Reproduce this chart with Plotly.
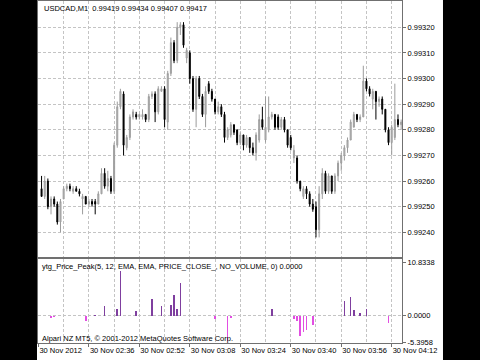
import plotly.graph_objects as go

# bar number (1 minute bars, bar 0 = 30 Nov 02:20)
bars = list(range(1, 116))

open_ = [0.99257, 0.99254, 0.99260, 0.99250, 0.99253, 0.99251, 0.99244, 0.99253, 0.99257, 0.99258,
         0.99256, 0.99257, 0.99256, 0.99253, 0.99254, 0.99251, 0.99252, 0.99252, 0.99251, 0.99255,
         0.99263, 0.99258, 0.99261, 0.99256, 0.99274, 0.99289, 0.99294, 0.99273, 0.99277, 0.99285,
         0.99286, 0.99285, 0.99285, 0.99286, 0.99284, 0.99293, 0.99294, 0.99287, 0.99295, 0.99296,
         0.99283, 0.99302, 0.99314, 0.99307, 0.99320, 0.99321, 0.99308, 0.99310, 0.99300, 0.99288,
         0.99300, 0.99293, 0.99286, 0.99298, 0.99295, 0.99292, 0.99287, 0.99289, 0.99286, 0.99277,
         0.99278, 0.99282, 0.99280, 0.99275, 0.99278, 0.99274, 0.99277, 0.99273, 0.99271, 0.99276,
         0.99284, 0.99276, 0.99280, 0.99285, 0.99286, 0.99285, 0.99281, 0.99284, 0.99280, 0.99277,
         0.99269, 0.99269, 0.99260, 0.99254, 0.99257, 0.99255, 0.99251, 0.99250, 0.99241, 0.99255,
         0.99263, 0.99256, 0.99262, 0.99256, 0.99262, 0.99267, 0.99270, 0.99273, 0.99276, 0.99281,
         0.99286, 0.99284, 0.99285, 0.99299, 0.99296, 0.99292, 0.99295, 0.99291, 0.99292, 0.99288,
         0.99280, 0.99275, 0.99277, 0.99284, 0.99282]

high = [0.99262, 0.99262, 0.99261, 0.99254, 0.99254, 0.99252, 0.99253, 0.99258, 0.99259, 0.99259,
        0.99258, 0.99258, 0.99257, 0.99255, 0.99254, 0.99253, 0.99253, 0.99253, 0.99256, 0.99265,
        0.99265, 0.99264, 0.99262, 0.99275, 0.99291, 0.99296, 0.99295, 0.99278, 0.99286, 0.99288,
        0.99287, 0.99286, 0.99288, 0.99286, 0.99294, 0.99295, 0.99295, 0.99297, 0.99297, 0.99297,
        0.99303, 0.99316, 0.99315, 0.99322, 0.99322, 0.99322, 0.99312, 0.99311, 0.99301, 0.99301,
        0.99301, 0.99294, 0.99297, 0.99299, 0.99296, 0.99292, 0.99291, 0.99290, 0.99287, 0.99281,
        0.99283, 0.99282, 0.99280, 0.99279, 0.99278, 0.99278, 0.99277, 0.99275, 0.99279, 0.99286,
        0.99289, 0.99293, 0.99293, 0.99287, 0.99286, 0.99286, 0.99285, 0.99285, 0.99280, 0.99278,
        0.99274, 0.99270, 0.99260, 0.99258, 0.99258, 0.99256, 0.99253, 0.99252, 0.99258, 0.99265,
        0.99264, 0.99263, 0.99262, 0.99263, 0.99268, 0.99271, 0.99274, 0.99277, 0.99284, 0.99287,
        0.99286, 0.99286, 0.99305, 0.99300, 0.99297, 0.99296, 0.99295, 0.99293, 0.99293, 0.99288,
        0.99281, 0.99282, 0.99298, 0.99286, 0.99284]

low = [0.99254, 0.99253, 0.99249, 0.99247, 0.99250, 0.99243, 0.99240, 0.99253, 0.99256, 0.99256,
       0.99255, 0.99256, 0.99254, 0.99247, 0.99251, 0.99250, 0.99250, 0.99247, 0.99251, 0.99255,
       0.99257, 0.99256, 0.99255, 0.99255, 0.99273, 0.99288, 0.99270, 0.99272, 0.99276, 0.99284,
       0.99284, 0.99284, 0.99284, 0.99283, 0.99283, 0.99292, 0.99283, 0.99286, 0.99295, 0.99281,
       0.99280, 0.99301, 0.99306, 0.99306, 0.99317, 0.99312, 0.99306, 0.99298, 0.99287, 0.99281,
       0.99292, 0.99285, 0.99281, 0.99294, 0.99291, 0.99286, 0.99286, 0.99285, 0.99275, 0.99276,
       0.99277, 0.99278, 0.99274, 0.99274, 0.99272, 0.99273, 0.99271, 0.99270, 0.99268, 0.99275,
       0.99280, 0.99275, 0.99279, 0.99284, 0.99280, 0.99280, 0.99280, 0.99279, 0.99273, 0.99272,
       0.99267, 0.99259, 0.99256, 0.99253, 0.99253, 0.99250, 0.99248, 0.99238, 0.99238, 0.99253,
       0.99255, 0.99255, 0.99255, 0.99255, 0.99260, 0.99264, 0.99268, 0.99271, 0.99276, 0.99281,
       0.99283, 0.99283, 0.99285, 0.99295, 0.99293, 0.99288, 0.99284, 0.99289, 0.99286, 0.99279,
       0.99274, 0.99270, 0.99276, 0.99281, 0.99280]

close = [0.99254, 0.99260, 0.99250, 0.99253, 0.99251, 0.99244, 0.99252, 0.99257, 0.99258, 0.99257,
         0.99257, 0.99256, 0.99255, 0.99254, 0.99251, 0.99252, 0.99251, 0.99251, 0.99255, 0.99263,
         0.99258, 0.99261, 0.99256, 0.99274, 0.99289, 0.99295, 0.99274, 0.99277, 0.99285, 0.99287,
         0.99285, 0.99286, 0.99286, 0.99284, 0.99293, 0.99294, 0.99287, 0.99296, 0.99296, 0.99284,
         0.99302, 0.99314, 0.99307, 0.99320, 0.99321, 0.99313, 0.99311, 0.99300, 0.99288, 0.99300,
         0.99293, 0.99286, 0.99295, 0.99295, 0.99292, 0.99287, 0.99289, 0.99286, 0.99277, 0.99280,
         0.99282, 0.99279, 0.99275, 0.99278, 0.99274, 0.99277, 0.99273, 0.99271, 0.99278, 0.99284,
         0.99281, 0.99281, 0.99285, 0.99286, 0.99281, 0.99281, 0.99284, 0.99280, 0.99274, 0.99273,
         0.99272, 0.99260, 0.99257, 0.99257, 0.99255, 0.99251, 0.99249, 0.99241, 0.99255, 0.99263,
         0.99256, 0.99262, 0.99256, 0.99262, 0.99267, 0.99270, 0.99273, 0.99276, 0.99283, 0.99286,
         0.99284, 0.99285, 0.99299, 0.99296, 0.99294, 0.99295, 0.99291, 0.99292, 0.99288, 0.99280,
         0.99275, 0.99281, 0.99284, 0.99282, 0.99283]

# ytg_Price_Peak histogram value per bar
peak = [0, 0, 0, -0.55, -0.3, 0, 0, 0, 0, 0,
        0, 0, 0, 0, -1.0, 0, 0, 0.2, 0, 0,
        2.0, 0, 0, 0, 1.4, 9.2, 0, 0, 0, 0,
        0.9, 0, 0, 0, 0, 3.5, 0, 0, 2.0, 0,
        0, 2.2, 4.15, 1.45, 6.6, 0, 0, 0, 0, 0,
        0, 0, 0, 0, 0, -0.6, 0, 0, 0, -5.1,
        -0.4, 0, 0, 0, 0, 0, 0, 0, 0, 0,
        0, 0, 0, 1.3, 0, 0, 0, -0.15, 0, 0,
        -0.6, -1.0, -4.2, -3.4, -3.0, 0, -2.0, 0, 0, 0,
        0, 0, 0, 0, 0, 0, 3.0, 0, 3.9, 1.2,
        0, 0.6, 0, 1.3, 0, 0, 0, 0, 0, 0,
        -1.5, 0, 0, 0, 0]

price_ticks = [0.99240, 0.99250, 0.99260, 0.99270, 0.99280, 0.99290, 0.99300, 0.99310, 0.99320]
time_tick_bars = [0, 16, 32, 48, 64, 80, 96, 112]
time_tick_labels = ["30 Nov 2012", "30 Nov 02:36", "30 Nov 02:52", "30 Nov 03:08",
                    "30 Nov 03:24", "30 Nov 03:40", "30 Nov 03:56", "30 Nov 04:12"]
ind_ticks = [10.8338, 0.0, -5.3958]
ind_tick_labels = ["10.8338", "0.0000", "-5.3958"]

header = "USDCAD,M1  0.99419 0.99434 0.99407 0.99417"
ind_name = "ytg_Price_Peak(5, 12, EMA, EMA, PRICE_CLOSE_, NO_VOLUME, 0) 0.0000"
copyright_txt = "Alpari NZ MT5, \u00a9 2001-2012 MetaQuotes Software Corp."

FONT = "Liberation Sans"
FS = 7.5
GRID = "#c4c4c4"
FRAME = "#707070"
XR = [-0.13, 115.27]

fig = go.Figure()
fig.add_trace(go.Candlestick(
    x=bars, open=open_, high=high, low=low, close=close,
    increasing=dict(line=dict(color="#9c9c9c", width=1), fillcolor="#c8c8c8"),
    decreasing=dict(line=dict(color="#000000", width=1), fillcolor="#000000"),
    whiskerwidth=0, xaxis="x", yaxis="y", showlegend=False, hoverinfo="skip"))

bar_colors = ["#7f3f9f" if v >= 0 else "#e24ee2" for v in peak]
fig.add_trace(go.Bar(x=bars, y=peak, width=0.5, marker=dict(color=bar_colors, line=dict(width=0)),
                     xaxis="x2", yaxis="y2", showlegend=False, hoverinfo="skip"))

axis_common = dict(showline=True, mirror=True, linecolor=FRAME, linewidth=1, zeroline=False,
                   automargin=False, tickangle=0,
                   tickfont=dict(family=FONT, size=FS, color="#000000"))

fig.update_layout(
    width=480, height=360,
    margin=dict(l=38, r=78, t=1, b=17, autoexpand=False),
    paper_bgcolor="#ffffff", plot_bgcolor="#ffffff",
    boxgap=0.55,
    font=dict(family=FONT, size=FS, color="#000000"),
    xaxis=dict(domain=[0, 1], anchor="y", range=XR, rangeslider=dict(visible=False),
               tickmode="linear", tick0=0, dtick=8, showticklabels=False, ticks="",
               showgrid=True, gridcolor=GRID, griddash="3px,2px", gridwidth=1, **axis_common),
    yaxis=dict(domain=[0.2515, 1], anchor="x", side="right", range=[0.9923036, 0.9933026],
               tickvals=price_ticks, tickformat=".5f", ticks="outside", ticklen=3, tickcolor=FRAME,
               showgrid=True, gridcolor=GRID, griddash="3px,2px", gridwidth=1, **axis_common),
    xaxis2=dict(domain=[0, 1], anchor="y2", range=XR,
                tickmode="array", tickvals=time_tick_bars, ticktext=time_tick_labels,
                ticklabelposition="outside right", ticks="outside", ticklen=3, tickcolor=FRAME,
                showgrid=True, gridcolor=GRID, griddash="3px,2px", gridwidth=1,
                minor=dict(tickmode="linear", tick0=0, dtick=8, showgrid=True, gridcolor=GRID,
                           griddash="3px,2px", ticks=""),
                **axis_common),
    yaxis2=dict(domain=[0, 0.2442], anchor="x2", side="right", range=[-5.60, 11.489],
                tickmode="array", tickvals=ind_ticks, ticktext=ind_tick_labels,
                ticks="outside", ticklen=3, tickcolor=FRAME, showgrid=False,
                minor=dict(tickmode="array", tickvals=[0.0], showgrid=True, gridcolor=GRID,
                           griddash="3px,2px", ticks=""),
                **axis_common),
    shapes=[
        dict(type="rect", xref="paper", yref="paper", x0=-0.1044, x1=-0.00275, y0=-0.06, y1=1.01,
             fillcolor="#000000", line=dict(width=0), layer="below"),
        dict(type="rect", xref="paper", yref="paper", x0=1.1126, x1=1.22, y0=-0.06, y1=1.01,
             fillcolor="#000000", line=dict(width=0), layer="below"),
    ],
    annotations=[
        dict(text=header, xref="paper", yref="paper", x=0.011, y=0.9795, xanchor="left",
             yanchor="middle", showarrow=False, font=dict(family=FONT, size=FS, color="#000000")),
        dict(text=ind_name, xref="paper", yref="paper", x=0.005, y=0.2244, xanchor="left",
             yanchor="middle", showarrow=False, font=dict(family=FONT, size=FS, color="#000000")),
        dict(text=copyright_txt, xref="paper", yref="paper", x=0.005, y=0.0146, xanchor="left",
             yanchor="middle", showarrow=False, font=dict(family=FONT, size=FS, color="#000000")),
    ],
    bargap=0,
)

fig.write_html("out.html",
               config={"displayModeBar": False, "staticPlot": True},
               post_script="document.body.style.margin='0';document.body.style.padding='0';"
                           "document.body.style.overflow='hidden';")
